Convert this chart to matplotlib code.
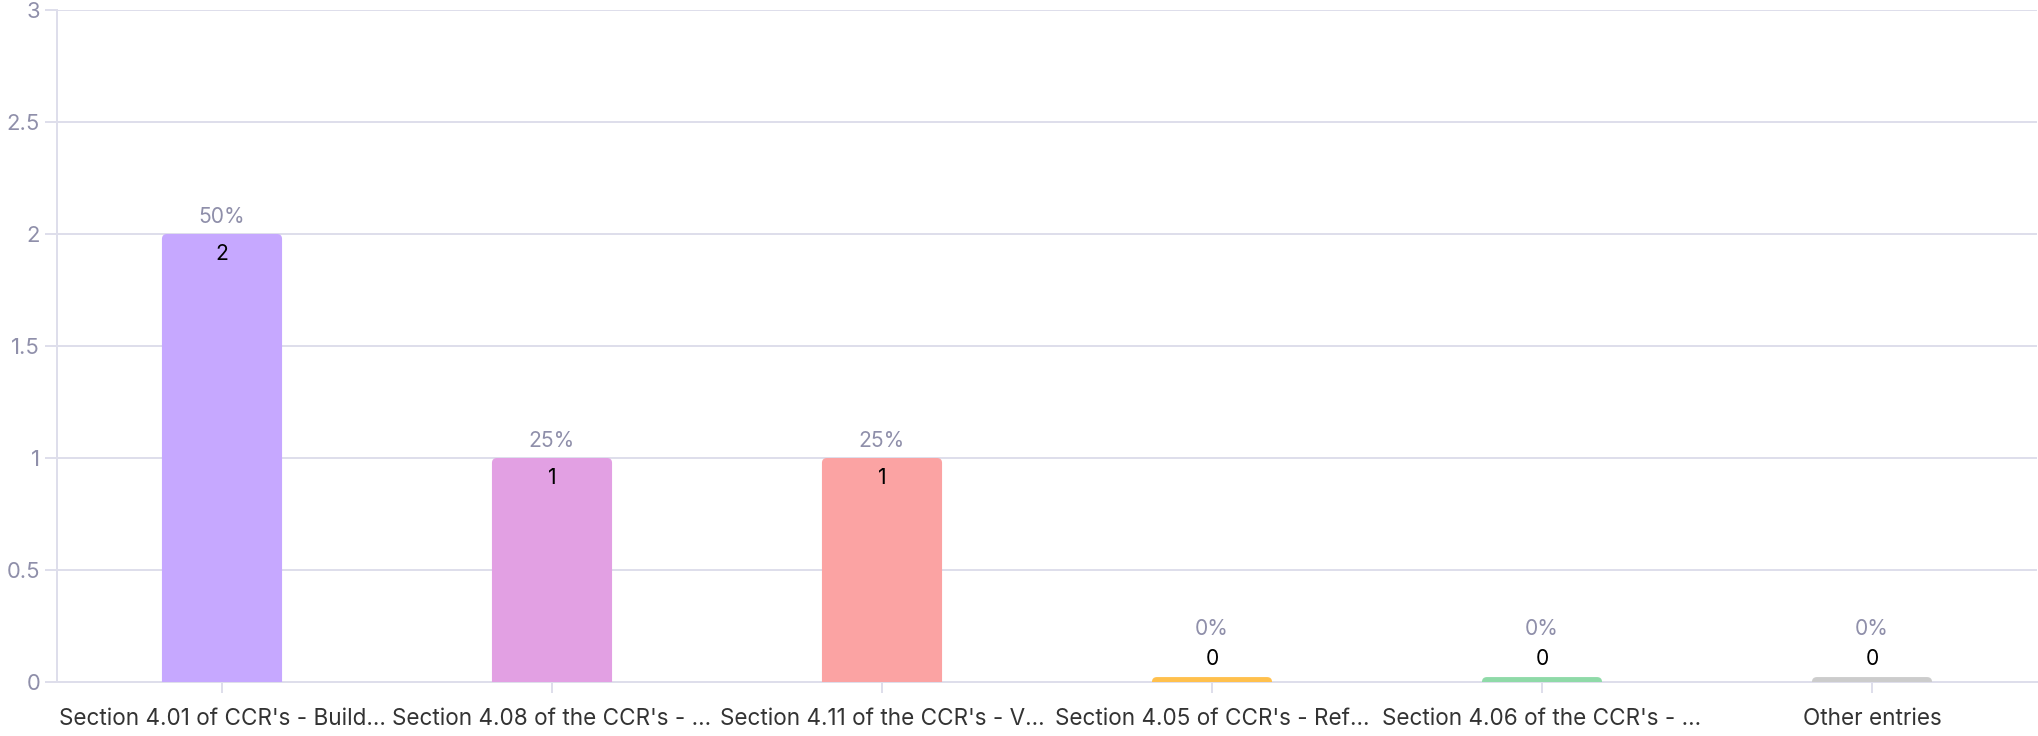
import numpy as np
import matplotlib.pyplot as plt
from matplotlib.patches import FancyBboxPatch

# antal svar per kategori
categories = ["Section 4.01 of CCR's - Build...", "Section 4.08 of the CCR's - ...",
              "Section 4.11 of the CCR's - V...", "Section 4.05 of CCR's - Ref...",
              "Section 4.06 of the CCR's - ...", "Other entries"]
counts = [2, 1, 1, 0, 0, 0]
percents = ["50%", "25%", "25%", "0%", "0%", "0%"]
colors = ["#c6a8ff", "#e2a0e3", "#fba3a3", "#ffc04d", "#8fdaa8", "#cccccc"]

grid_col = "#dedeeb"
tick_col = "#8f8faa"

plt.rcParams['font.family'] = ['Inter', 'DejaVu Sans']

# dpi 72 -> 1 pt = 1 px
fig = plt.figure(figsize=(2038 / 72, 736 / 72), dpi=72)
ax = fig.add_axes([57 / 2038, 1 - 682 / 736, 1980 / 2038, 672 / 736])

x = np.arange(len(categories))
bar_w = 0.364
min_h = 0.022  # stubb för nollvärden
heights = [max(c, min_h) for c in counts]

bars = ax.bar(x, heights, width=bar_w, color=colors, zorder=3)

# rundade hörn upptill, nederkanten göms under x-axeln
r = 5 / 330
aspect = 330 / 224
for b in bars:
    bx, bw, bh = b.get_x(), b.get_width(), b.get_height()
    p = FancyBboxPatch((bx, -3 * r * aspect), bw, bh + 3 * r * aspect,
                       boxstyle="round,pad=0,rounding_size=%f" % r,
                       mutation_aspect=aspect, fc=b.get_facecolor(), ec="none",
                       zorder=3, clip_on=True)
    ax.add_patch(p)
    b.remove()

fs = 21
for xi, h, c, pct in zip(x, heights, counts, percents):
    if c > 0:
        ax.annotate(str(c), (xi, h), xytext=(0, -20), textcoords="offset points",
                    ha="center", va="center", fontsize=fs, color="black", zorder=4)
        ax.annotate(pct, (xi, h), xytext=(0, 17), textcoords="offset points",
                    ha="center", va="center", fontsize=fs, color=tick_col, zorder=4)
    else:
        ax.annotate(str(c), (xi, h), xytext=(0, 18), textcoords="offset points",
                    ha="center", va="center", fontsize=fs, color="black", zorder=4)
        ax.annotate(pct, (xi, h), xytext=(0, 48), textcoords="offset points",
                    ha="center", va="center", fontsize=fs, color=tick_col, zorder=4)

ax.set_xlim(-0.5, len(categories) - 0.5)
ax.set_ylim(0, 3)
ax.set_yticks([0, 0.5, 1, 1.5, 2, 2.5, 3])
ax.set_yticklabels(["0", "0.5", "1", "1.5", "2", "2.5", "3"])
ax.set_xticks(x)
ax.set_xticklabels(categories)

ax.grid(axis="y", color=grid_col, linewidth=2, zorder=0)
ax.tick_params(axis="y", length=12, width=2, color=grid_col, labelcolor=tick_col,
               labelsize=22, pad=5)
ax.tick_params(axis="x", length=11, width=2, color=grid_col, labelcolor="#333333",
               labelsize=22.5, pad=15)

for s in ["top", "right"]:
    ax.spines[s].set_visible(False)
for s in ["left", "bottom"]:
    ax.spines[s].set_color(grid_col)
    ax.spines[s].set_linewidth(2)

fig.savefig("out.png", dpi=72, facecolor="white")
